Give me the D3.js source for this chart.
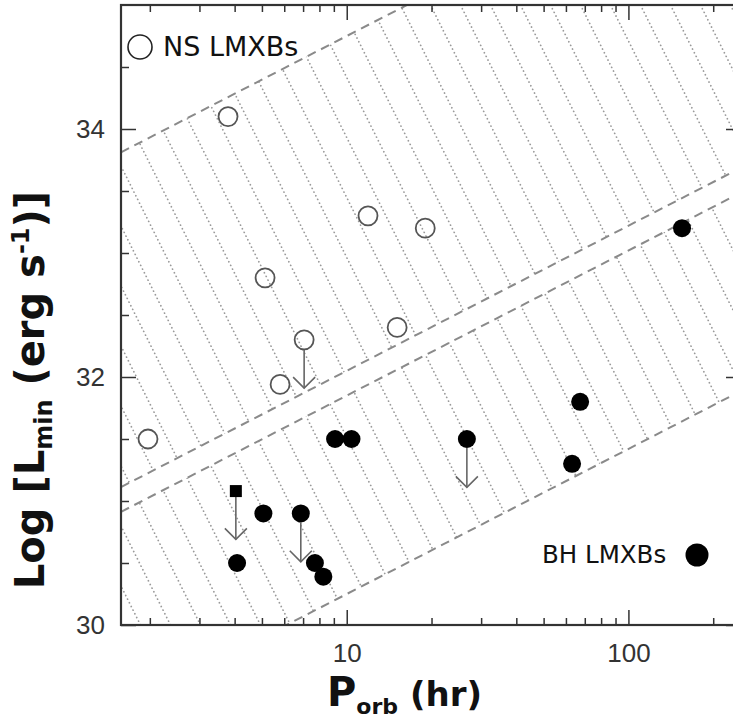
<!DOCTYPE html>
<html><head><meta charset="utf-8">
<script src="https://cdn.jsdelivr.net/npm/d3@7"></script>
<style>body{margin:0;background:#fff} svg{display:block}</style>
</head><body>
<svg id="c" width="733" height="720"></svg>
<script>
// ---------- data ----------
const nsPeriod = [1.97, 3.79, 5.13, 5.80, 7.06, 11.9, 15.1, 19.0];
const nsLmin   = [31.50, 34.10, 32.80, 31.94, 32.30, 33.30, 32.40, 33.20];
const nsUpper  = [false, false, false, false, true, false, false, false];

const bhPeriod = [4.04, 4.08, 5.06, 6.87, 7.71, 8.26, 9.09, 10.4, 26.7, 63.1, 67.4, 155];
const bhLmin   = [31.08, 30.50, 30.90, 30.90, 30.50, 30.39, 31.50, 31.50, 31.50, 31.30, 31.80, 33.20];
const bhUpper  = [true, false, false, true, false, false, false, false, true, false, false, false];
const bhSquare = [true, false, false, false, false, false, false, false, false, false, false, false];

const xMajorTicks = [10, 100];
const xMinorTicks = [2,3,4,5,6,7,8,9,20,30,40,50,60,70,80,90,200];
const yMajorTicks = [30, 32, 34];
const yMinorTicks = [30.5,31,31.5,32.5,33,33.5,34.5];

// band boundaries: log L at P = 10 hr, common slope (dex per decade)
const bandSlope = 1.17;
const nsBand = [32.05, 34.75];
const bhBand = [30.25, 31.85];
const limitLength = 0.39; // dex

// hatch texture (screen units)
const hatchStep = 30, hatchRise = 2.0, hatchPhase = 413;

// ---------- layout ----------
const svg = d3.select('#c');
const m = {left:121, top:5, right:741, bottom:625};
const x = d3.scaleLog().domain([1.58, 251]).range([m.left, m.right]);
const y = d3.scaleLinear().domain([30, 35]).range([m.bottom, m.top]);

const defs = svg.append('defs');
defs.append('clipPath').attr('id','plotclip').append('rect')
  .attr('x', m.left).attr('y', m.top).attr('width', m.right-m.left).attr('height', m.bottom-m.top);

const plot = svg.append('g').attr('clip-path','url(#plotclip)');
const bandL = (c, P) => c + bandSlope*(Math.log10(P) - 1);
const [p0, p1] = x.domain();

function band(b, id) {
  const pts = [[p0,bandL(b[0],p0)],[p1,bandL(b[0],p1)],[p1,bandL(b[1],p1)],[p0,bandL(b[1],p0)]];
  defs.append('clipPath').attr('id',id).append('path')
    .attr('d', d3.line().x(d=>x(d[0])).y(d=>y(d[1]))(pts)+'Z');
  const hg = plot.append('g').attr('clip-path',`url(#${id})`);
  const yRef = 150;
  for (let k = -20; k <= 20; k++) {
    const xr = hatchPhase + k*hatchStep;
    const xa = xr + (m.top - yRef)/hatchRise, xb = xr + (m.bottom - yRef)/hatchRise;
    if (xb < m.left || xa > m.right) continue;
    hg.append('line').attr('x1',xa).attr('y1',m.top).attr('x2',xb).attr('y2',m.bottom)
      .attr('stroke','#9a9a9a').attr('stroke-width',1.7).attr('stroke-linecap','round')
      .attr('stroke-dasharray','0.1 4');
  }
  b.forEach(c => {
    plot.append('line')
      .attr('x1', x(p0)).attr('y1', y(bandL(c,p0)))
      .attr('x2', x(p1)).attr('y2', y(bandL(c,p1)))
      .attr('stroke','#8a8a8a').attr('stroke-width',2).attr('stroke-dasharray','9 6');
  });
}
band(nsBand, 'nsclip');
band(bhBand, 'bhclip');

// ---------- axes ----------
const tickFont = 'Liberation Sans, Arial, sans-serif';
const axStyle = g => { g.select('.domain').remove(); g.selectAll('line').attr('stroke','#333').attr('stroke-width',1.5); };
svg.append('g').attr('transform',`translate(0,${m.bottom})`)
  .call(d3.axisBottom(x).tickValues(xMajorTicks).tickSize(-15).tickPadding(19).tickFormat(d3.format('d')))
  .call(axStyle).call(g=>g.selectAll('text').attr('font-size',26).attr('fill','#333').attr('font-family',tickFont));
svg.append('g').attr('transform',`translate(0,${m.bottom})`)
  .call(d3.axisBottom(x).tickValues(xMinorTicks).tickSize(-7).tickFormat('')).call(axStyle);
svg.append('g').attr('transform',`translate(0,${m.top})`)
  .call(d3.axisTop(x).tickValues(xMajorTicks).tickSize(-15).tickFormat('')).call(axStyle);
svg.append('g').attr('transform',`translate(0,${m.top})`)
  .call(d3.axisTop(x).tickValues(xMinorTicks).tickSize(-7).tickFormat('')).call(axStyle);
svg.append('g').attr('transform',`translate(${m.left},0)`)
  .call(d3.axisLeft(y).tickValues(yMajorTicks).tickSize(-15).tickPadding(16).tickFormat(d3.format('d')))
  .call(axStyle).call(g=>g.selectAll('text').attr('font-size',26).attr('fill','#333').attr('font-family',tickFont));
svg.append('g').attr('transform',`translate(${m.left},0)`)
  .call(d3.axisLeft(y).tickValues(yMinorTicks).tickSize(-8).tickFormat('')).call(axStyle);
svg.append('g').attr('transform',`translate(${m.right},0)`)
  .call(d3.axisRight(y).tickValues(yMajorTicks).tickSize(-15).tickFormat('')).call(axStyle);
svg.append('g').attr('transform',`translate(${m.right},0)`)
  .call(d3.axisRight(y).tickValues(yMinorTicks).tickSize(-8).tickFormat('')).call(axStyle);

svg.append('rect').attr('x',m.left).attr('y',m.top).attr('width',m.right-m.left).attr('height',m.bottom-m.top)
  .attr('fill','none').attr('stroke','#333').attr('stroke-width',2.2);

// ---------- limit arrows ----------
function arrow(P, L, r) {
  const xx = x(P), y0 = y(L) + r, y1 = y(L - limitLength);
  svg.append('line').attr('x1',xx).attr('x2',xx).attr('y1',y0).attr('y2',y1)
    .attr('stroke','#666').attr('stroke-width',1.6);
  svg.append('path').attr('d',`M${xx-11},${y1-11}L${xx},${y1}L${xx+11},${y1-11}`)
    .attr('fill','none').attr('stroke','#666').attr('stroke-width',1.6);
}

// ---------- points ----------
nsPeriod.forEach((P,i) => {
  if (nsUpper[i]) arrow(P, nsLmin[i], 9.5);
  svg.append('circle').attr('cx',x(P)).attr('cy',y(nsLmin[i])).attr('r',9.5)
    .attr('fill','none').attr('stroke','#555').attr('stroke-width',1.8);
});
bhPeriod.forEach((P,i) => {
  if (bhUpper[i]) arrow(P, bhLmin[i], bhSquare[i] ? 6 : 9);
  if (bhSquare[i]) {
    svg.append('rect').attr('x',x(P)-6).attr('y',y(bhLmin[i])-6).attr('width',12).attr('height',12).attr('fill','#000');
  } else {
    svg.append('circle').attr('cx',x(P)).attr('cy',y(bhLmin[i])).attr('r',9).attr('fill','#000');
  }
});

// ---------- legends ----------
const legFont = 'DejaVu Sans, sans-serif';
svg.append('circle').attr('cx',140).attr('cy',47).attr('r',12).attr('fill','none').attr('stroke','#222').attr('stroke-width',1.6);
svg.append('text').attr('x',163).attr('y',56).attr('font-size',27).attr('font-family',legFont).attr('fill','#111').text('NS LMXBs');
svg.append('text').attr('x',542).attr('y',563).attr('font-size',24.5).attr('font-family',legFont).attr('fill','#111').text('BH LMXBs');
svg.append('circle').attr('cx',697).attr('cy',555).attr('r',11.5).attr('fill','#000');

// ---------- axis titles ----------
const titleFont = 'DejaVu Sans, sans-serif';
const xt = svg.append('text').attr('x',327).attr('y',706).attr('font-family',titleFont).attr('font-weight','bold').attr('fill','#111');
xt.append('tspan').attr('font-size',40).text('P');
xt.append('tspan').attr('font-size',22).attr('dy',8).text('orb');
xt.append('tspan').attr('font-size',34).attr('dy',-8).text(' (hr)');

const yt = svg.append('text').attr('transform','translate(44,390) rotate(-90)').attr('text-anchor','middle')
  .attr('font-family',titleFont).attr('font-weight','bold').attr('fill','#111');
yt.append('tspan').attr('font-size',40).text('Log [L');
yt.append('tspan').attr('font-size',24).attr('dy',8).text('min');
yt.append('tspan').attr('font-size',40).attr('dy',-8).text(' (erg s');
yt.append('tspan').attr('font-size',24).attr('dy',-15).text('-1');
yt.append('tspan').attr('font-size',40).attr('dy',15).text(')]');
</script>
</body></html>
